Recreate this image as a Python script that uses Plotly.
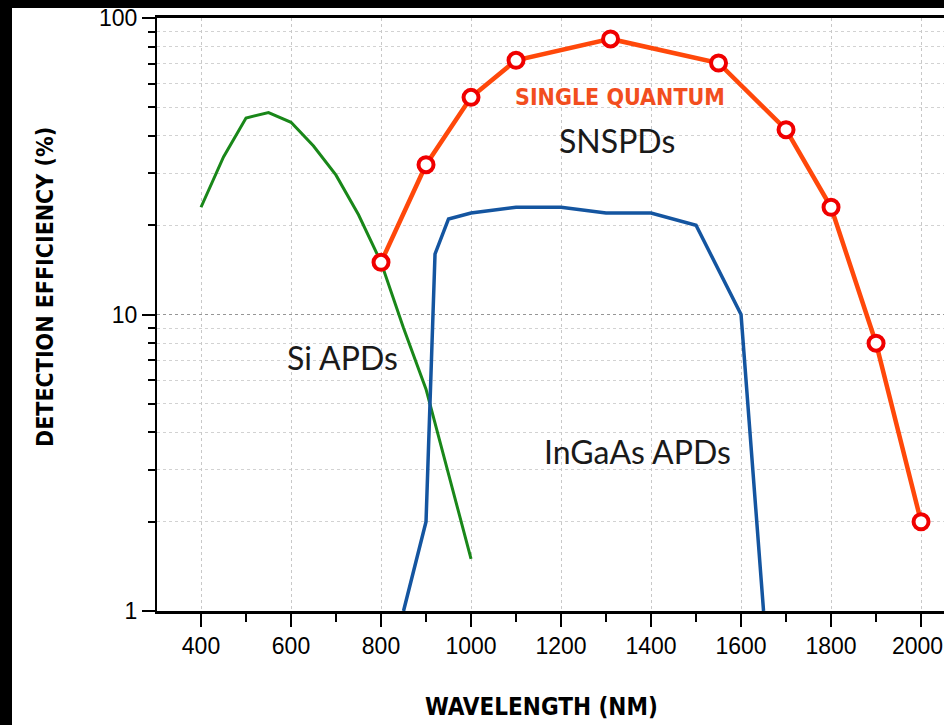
import plotly.graph_objects as go

# ---- data ----
snspd_wl = [800, 900, 1000, 1100, 1310, 1550, 1700, 1800, 1900, 2000]
snspd_eff = [15, 32, 54, 72, 85, 70.5, 42, 23, 8, 2]

si_wl = [400, 450, 500, 550, 600, 650, 700, 750, 800, 850, 900, 950, 1000]
si_eff = [23, 34, 46, 48, 44.5, 37, 29.5, 21.7, 15, 9, 5.6, 2.9, 1.5]

ingaas_wl = [850, 900, 920, 950, 1000, 1100, 1200, 1300, 1400, 1500, 1600, 1650]
ingaas_eff = [1, 2, 16, 21, 22, 23, 23, 22, 22, 20, 10, 1]

x_ticks = [400, 600, 800, 1000, 1200, 1400, 1600, 1800, 2000]
y_ticks = [1, 10, 100]
y_ticklabels = ["1", "10", "100"]
y_minor = [2, 3, 4, 5, 6, 7, 8, 9, 20, 30, 40, 50, 60, 70, 80, 90]

# ---- geometry helpers ----
W, H = 944, 725
L, T, B = 157, 18, 611
PW, PH = W - L, B - T


def px(x):
    return (x - L) / PW


def py(y):
    return (B - y) / PH


DISPLAY = "DejaVu Sans Condensed, Liberation Sans Narrow, DejaVu Sans"
BODY = "Lato, Open Sans, sans-serif"
TICK = "Liberation Sans, Arial, sans-serif"

fig = go.Figure()

fig.add_trace(go.Scatter(
    x=si_wl, y=si_eff, mode="lines",
    line=dict(color="rgb(25,135,25)", width=3),
    hoverinfo="skip", showlegend=False))

fig.add_trace(go.Scatter(
    x=ingaas_wl, y=ingaas_eff, mode="lines",
    line=dict(color="rgb(20,85,160)", width=3.5),
    hoverinfo="skip", showlegend=False))

fig.add_trace(go.Scatter(
    x=snspd_wl, y=snspd_eff, mode="lines+markers",
    line=dict(color="rgb(255,72,10)", width=4.5),
    marker=dict(size=15, color="white",
                line=dict(color="rgb(240,0,0)", width=4)),
    hoverinfo="skip", showlegend=False))

annotations = [
    dict(text="<b>SINGLE QUANTUM</b>", x=px(620), y=py(97),
         font=dict(family=DISPLAY, size=23, color="rgb(242,78,30)"),
         ),
    dict(text="SNSPDs", x=px(617), y=py(140),
         font=dict(family=BODY, size=32, color="#1a1a1a")),
    dict(text="Si APDs", x=px(342), y=py(358),
         font=dict(family=BODY, size=32, color="#1a1a1a")),
    dict(text="InGaAs APDs", x=px(637), y=py(451),
         font=dict(family=BODY, size=32, color="#1a1a1a")),
    dict(text="<b>WAVELENGTH (NM)</b>", x=px(541), y=py(707),
         font=dict(family=DISPLAY, size=24, color="black")),
    dict(text="<b>DETECTION EFFICIENCY (%)</b>", x=px(45), y=py(287),
         textangle=-90,
         font=dict(family=DISPLAY, size=23, color="black")),
]
for a in annotations:
    a.update(xref="paper", yref="paper", xanchor="center", yanchor="middle",
             showarrow=False)

# last x tick label sits at the right edge of the picture; plotly hides a
# tick label that runs past the page, so it is placed flush with the edge
annotations.append(dict(
    text=str(x_ticks[-1]), xref="paper", yref="paper", x=1.0, y=py(645.5),
    xanchor="right", yanchor="middle", showarrow=False, borderpad=0,
    font=dict(family=TICK, size=23, color="black")))

shapes = [
    # black frame strips on top and left of the picture
    dict(type="rect", xref="paper", yref="paper",
         x0=px(0), x1=px(W), y0=py(8), y1=py(0),
         fillcolor="black", line=dict(width=0), layer="above"),
    dict(type="rect", xref="paper", yref="paper",
         x0=px(0), x1=px(12), y0=py(H), y1=py(0),
         fillcolor="black", line=dict(width=0), layer="above"),
]

fig.update_layout(
    width=W, height=H,
    margin=dict(l=L, r=0, t=T, b=H - B, pad=0),
    paper_bgcolor="white", plot_bgcolor="white",
    annotations=annotations, shapes=shapes,
    xaxis=dict(
        range=[302.2, 2051], tickvals=x_ticks,
        ticks="outside", ticklen=13, tickwidth=2, tickcolor="black",
        showline=True, linewidth=2.5, linecolor="black", mirror=True,
        showgrid=True, gridcolor="rgb(200,200,200)", griddash="dot", gridwidth=1,
        zeroline=False,
        tickfont=dict(family=TICK, size=23, color="black"),
        minor=dict(dtick=100, tick0=0, ticks="outside", ticklen=8, tickwidth=2,
                   tickcolor="black", showgrid=False),
    ),
    yaxis=dict(
        type="log", range=[0, 2], tickvals=y_ticks, ticktext=y_ticklabels,
        ticks="outside", ticklen=13, tickwidth=2, tickcolor="black",
        showline=True, linewidth=2, linecolor="black", mirror=False,
        showgrid=True, gridcolor="rgb(150,150,150)", griddash="dot", gridwidth=1,
        zeroline=False,
        tickfont=dict(family=TICK, size=23, color="black"),
        minor=dict(tickvals=y_minor, ticks="outside", ticklen=7, tickwidth=2,
                   tickcolor="black", showgrid=True, gridcolor="rgb(210,210,210)",
                   griddash="dot", gridwidth=1),
    ),
)

fig.write_html("out.html")
